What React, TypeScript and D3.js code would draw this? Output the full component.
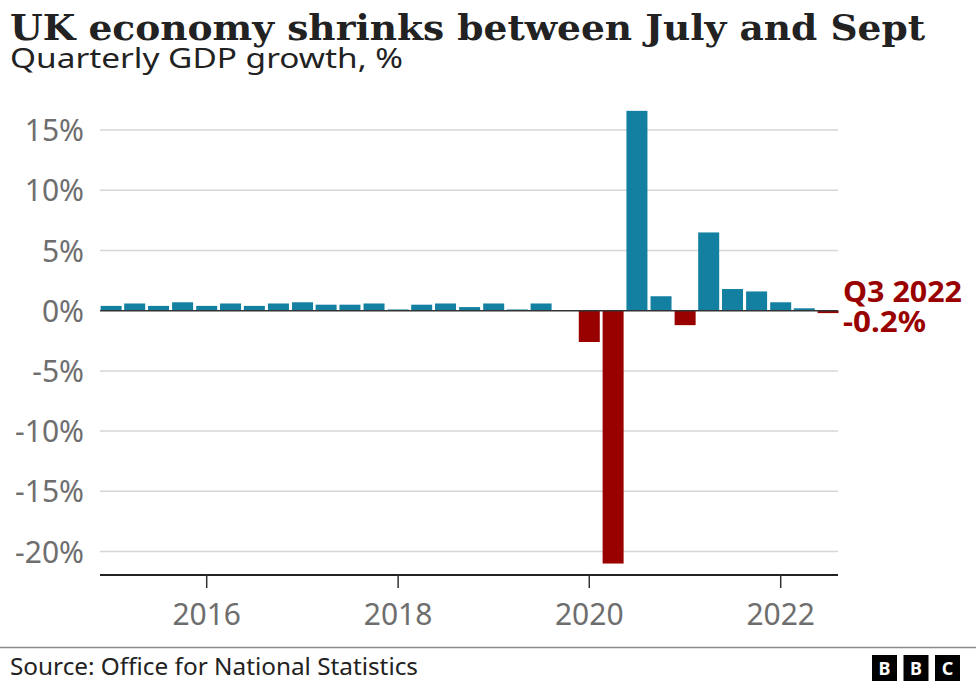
import React from "react";
import * as d3 from "d3";

const quarters = [
  "2015Q1","2015Q2","2015Q3","2015Q4",
  "2016Q1","2016Q2","2016Q3","2016Q4",
  "2017Q1","2017Q2","2017Q3","2017Q4",
  "2018Q1","2018Q2","2018Q3","2018Q4",
  "2019Q1","2019Q2","2019Q3","2019Q4",
  "2020Q1","2020Q2","2020Q3","2020Q4",
  "2021Q1","2021Q2","2021Q3","2021Q4",
  "2022Q1","2022Q2","2022Q3",
];
const growth = [
  0.4, 0.6, 0.4, 0.7,
  0.4, 0.6, 0.4, 0.6,
  0.7, 0.5, 0.5, 0.6,
  0.1, 0.5, 0.6, 0.3,
  0.6, 0.1, 0.6, 0.0,
  -2.6, -21.0, 16.6, 1.2,
  -1.2, 6.5, 1.8, 1.6,
  0.7, 0.2, -0.2,
];
const yTicks = [15, 10, 5, 0, -5, -10, -15, -20];
const xTickYears = [2016, 2018, 2020, 2022];
const title = "UK economy shrinks between July and Sept";
const subtitle = "Quarterly GDP growth, %";
const source = "Source: Office for National Statistics";
const annotationLines = ["Q3 2022", "-0.2%"];

const W = 976;
const H = 686;
const plotLeft = 100;
const plotRight = 838;
const axisY = 575;
const BLUE = "#1380A1";
const RED = "#990000";
const SANS = "'Noto Sans', 'Open Sans', sans-serif";

function qDate(q: string): Date {
  const y = +q.slice(0, 4);
  const n = +q.slice(5);
  return new Date(y, (n - 1) * 3, 1);
}

export default function App() {
  const x = d3
    .scaleTime()
    .domain([new Date(2016, 0, 1), new Date(2022, 0, 1)])
    .range([206.7, 780.7]);
  const y = d3.scaleLinear().domain([-20, 15]).range([551.5, 130.1]);
  const barW = 21;
  const data = quarters.map((q, i) => ({ q, d: qDate(q), v: growth[i] }));

  return (
    <svg
      width={W}
      height={H}
      viewBox={`0 0 ${W} ${H}`}
      style={{ position: "absolute", left: 0, top: 0, background: "#fff" }}
    >
      <rect x={0} y={0} width={W} height={H} fill="#fff" />
      <text
        x={10}
        y={40}
        fontFamily="'DejaVu Serif', 'Liberation Serif', serif"
        fontWeight="bold"
        fontSize={36}
        fill="#222"
        textLength={915}
        lengthAdjust="spacingAndGlyphs"
      >
        {title}
      </text>
      <text
        x={10}
        y={68}
        fontFamily={SANS}
        fontSize={28}
        fill="#222"
        textLength={393}
        lengthAdjust="spacingAndGlyphs"
      >
        {subtitle}
      </text>

      {yTicks.map((t) => (
        <g key={t}>
          {t !== 0 && (
            <line
              x1={plotLeft}
              x2={plotRight}
              y1={y(t)}
              y2={y(t)}
              stroke="#d6d6d6"
              strokeWidth={1.5}
            />
          )}
          <text
            x={84}
            y={y(t) + 11}
            textAnchor="end"
            fontFamily={SANS}
            fontSize={30}
            fill="#6e6e6e"
          >
            {`${t}%`}
          </text>
        </g>
      ))}

      {data.map((b) => (
        <rect
          key={b.q}
          x={x(b.d) - barW / 2}
          width={barW}
          y={Math.min(y(b.v), y(0))}
          height={Math.abs(y(b.v) - y(0))}
          fill={b.v < 0 ? RED : BLUE}
        />
      ))}

      <line
        x1={plotLeft}
        x2={plotRight}
        y1={y(0)}
        y2={y(0)}
        stroke="#333"
        strokeWidth={1.5}
      />

      <line
        x1={plotLeft}
        x2={plotRight}
        y1={axisY}
        y2={axisY}
        stroke="#222"
        strokeWidth={2}
      />
      {xTickYears.map((yr) => {
        const px = x(new Date(yr, 0, 1));
        return (
          <g key={yr}>
            <line x1={px} x2={px} y1={axisY} y2={axisY + 13} stroke="#333" strokeWidth={1.5} />
            <text
              x={px}
              y={625}
              textAnchor="middle"
              fontFamily={SANS}
              fontSize={30}
              fill="#6e6e6e"
            >
              {yr}
            </text>
          </g>
        );
      })}

      {annotationLines.map((s, i) => (
        <text
          key={s}
          x={843}
          y={302 + i * 30}
          fontFamily={SANS}
          fontWeight="bold"
          fontSize={29}
          fill={RED}
          textLength={i === 0 ? 119 : 83}
          lengthAdjust="spacingAndGlyphs"
        >
          {s}
        </text>
      ))}

      <line x1={0} x2={W} y1={647.5} y2={647.5} stroke="#8a8a8a" strokeWidth={1.5} />
      <text
        x={10}
        y={675}
        fontFamily={SANS}
        fontSize={23}
        fill="#222"
        textLength={408}
        lengthAdjust="spacingAndGlyphs"
      >
        {source}
      </text>
      {["B", "B", "C"].map((l, i) => (
        <g key={i}>
          <rect x={872 + i * 31.5} y={655} width={25} height={26} fill="#000" />
          <text
            x={872 + i * 31.5 + 12.5}
            y={674.5}
            textAnchor="middle"
            fontFamily={SANS}
            fontWeight="bold"
            fontSize={18}
            fill="#fff"
          >
            {l}
          </text>
        </g>
      ))}
    </svg>
  );
}
